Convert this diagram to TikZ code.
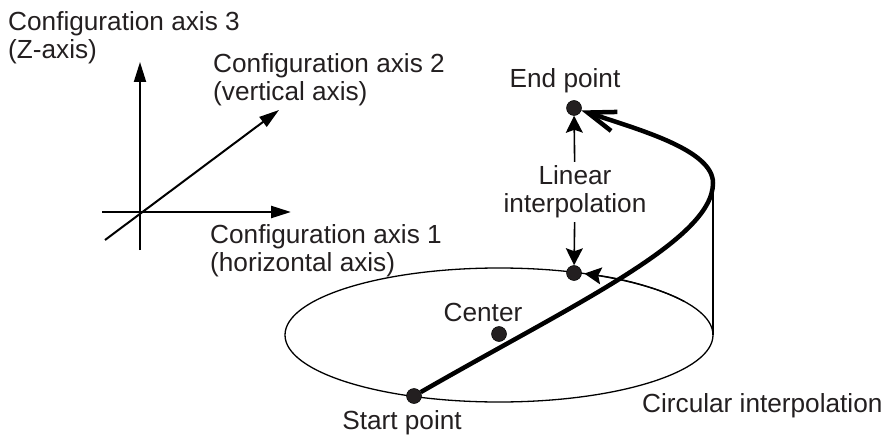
\documentclass[tikz,border=0pt]{standalone}
\usepackage{fontspec}
\setmainfont{Liberation Sans}
\usepackage{tikz}
\usetikzlibrary{arrows.meta, positioning, calc, shapes.geometric}
\definecolor{inkblack}{RGB}{35,31,32}
\tikzset{
  lbl/.style={text=inkblack, font=\fontsize{26.2}{28}\selectfont, inner sep=0pt, align=left},
  dot/.style={circle, fill=inkblack, draw=black, line width=0.5pt, minimum size=15pt, inner sep=0pt},
  axisarr/.style={-{Triangle[length=20pt, width=12pt]}, black},
  arr/.style={-{Stealth[length=17pt, width=17pt, inset=3pt]}, black, line width=1.6pt},
}
\begin{document}
\begin{tikzpicture}[x=1pt, y=1pt]
    \useasboundingbox (0,0) rectangle (883,437);

    % Configuration axes
    \coordinate (ztail) at (140,187);
    \coordinate (ztip) at (140,375);
    \coordinate (xtail) at (102,225);
    \coordinate (xtip) at (291,225);
    \coordinate (ytail) at (105,197);
    \coordinate (ytip) at (279,327);
    \draw[axisarr, line width=2pt] (ztail) -- (ztip);
    \draw[axisarr, line width=2.4pt] (xtail) -- (xtip);
    \draw[axisarr, line width=2pt] (ytail) -- (ytip);

    \node[lbl, anchor=north west] (zlabel) at (8,426) {Configuration axis 3\\(Z-axis)};
    \node[lbl, anchor=north west] (ylabel) at (213,384) {Configuration axis 2\\(vertical axis)};
    \node[lbl, anchor=north west] (xlabel) at (210,213) {Configuration axis 1\\(horizontal axis)};

    % Base circle
    \node[ellipse, draw=black, line width=1.3pt, minimum width=428pt, minimum height=134pt,
          inner sep=0pt] (orbit) at (499,102) {};
    \node[dot] (center) at (499,103) {};
    \node[dot] (startpt) at (414,41) {};
    \node[dot] (midpt) at (574,164) {};
    \node[dot] (endpt) at (574,329) {};
    \node[lbl] (centerlabel) at (483,125) {Center};
    \node[lbl] (startlabel) at (402,14) {Start point};
    \node[lbl] (endlabel) at (565,356) {End point};
    \node[lbl, anchor=west] (circlabel) at (642,31) {Circular interpolation};

    % Arrow along the circle
    \draw[arr, line width=1.3pt] (orbit.center) ++(30:214 and 67) arc[start angle=30, end angle=66.5, x radius=214, y radius=67];

    % Height of the helix
    \coordinate (rimtop) at (713,254);
    \coordinate (rimbot) at (713,102);
    \draw[black, line width=1.2pt] (rimtop) -- (rimbot);

    % Helix
    \draw[black, line width=4.5pt, -{Straight Barb[length=28pt, width=20pt]}]
      (startpt) .. controls (574,133) and (713,197) .. (rimtop)
      .. controls (713,287) and (640,307) .. (endpt);

    % Linear interpolation
    \node[lbl, align=center, minimum height=60pt] (linear) at (575,245) {Linear\\interpolation};
    \draw[arr] (linear) -- (endpt);
    \draw[arr] (linear) -- (midpt);
\end{tikzpicture}
\end{document}
